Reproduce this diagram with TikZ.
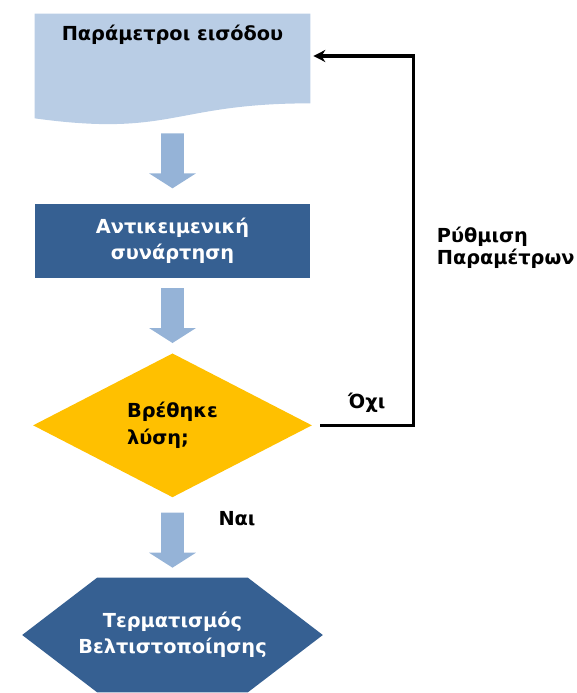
\documentclass[tikz,border=0pt]{standalone}
\usepackage{fontspec}
\setmainfont{DejaVu Sans}
\usetikzlibrary{arrows.meta, positioning, shapes.geometric, calc, backgrounds}
\definecolor{docblue}{HTML}{B9CDE5}
\definecolor{arrowblue}{HTML}{95B3D7}
\definecolor{stepblue}{HTML}{366092}
\definecolor{decisiongold}{HTML}{FFC000}

% block arrow pointing down, from #1 (top of shaft) to #2 (tip)
\newcommand{\blockarrow}[2]{%
  \fill[arrowblue] let \p1=(#1), \p2=(#2) in
    (\x1-0.23cm,\y1) -- (\x1+0.23cm,\y1) -- (\x1+0.23cm,\y2+0.3cm)
    -- (\x1+0.47cm,\y2+0.3cm) -- (\x1,\y2) -- (\x1-0.47cm,\y2+0.3cm)
    -- (\x1-0.23cm,\y2+0.3cm) -- cycle;}

\begin{document}
\begin{tikzpicture}[
    x=0.02cm, y=-0.02cm,
    >=Stealth,
    font=\bfseries\fontsize{11}{15}\selectfont,
    docbox/.style={minimum width=5.5cm, minimum height=1.78cm, inner sep=0pt},
    stepbox/.style={
        fill=stepblue, text=white, minimum width=5.5cm, minimum height=1.48cm,
        align=center,
    },
    decision/.style={
        diamond, fill=decisiongold, minimum width=5.58cm, minimum height=2.88cm,
        align=left, inner sep=0pt,
    },
    endbox/.style={
        text=white, minimum width=6cm, minimum height=2.28cm,
        align=center, inner sep=0pt,
    },
    lbl/.style={text=black, align=left},
    backarr/.style={-{Stealth[length=0.24cm, width=0.24cm]}, line width=1.9pt},
]
\useasboundingbox (0,0) rectangle (576,693);

% Input parameters (document shape)
\node[docbox] (doc) at (172.5,58.5) {};
\fill[docblue] (doc.north west) -- (doc.north east) -- (doc.south east)
    .. controls (doc.south) and ($(doc.south)+(0,34)$) .. ($(doc.south west)+(0,15)$)
    -- cycle;
\node[lbl, anchor=north] (doctext) at ([yshift=-0.1cm]doc.north) {Παράμετροι εισόδου};

% Objective function
\node[stepbox, below=2cm of doc] (objective) {Αντικειμενική\\συνάρτηση};

% Decision
\node[decision, below=1.5cm of objective] (found) {Βρέθηκε\\λύση;};

% Termination (hexagon)
\node[endbox, below=1.6cm of found] (term) {Τερματισμός\\Βελτιστοποίησης};
\begin{scope}[on background layer]
\fill[stepblue] ([xshift=1.5cm]term.north west) -- ([xshift=-1.5cm]term.north east)
    -- (term.east) -- ([xshift=-1.5cm]term.south east)
    -- ([xshift=1.5cm]term.south west) -- (term.west) -- cycle;
\end{scope}

% Block arrows between the steps
\blockarrow{[yshift=-0.6cm]doc.south}{[yshift=0.3cm]objective.north}
\blockarrow{[yshift=-0.2cm]objective.south}{[yshift=0.2cm]found.north}
\blockarrow{[yshift=-0.3cm]found.south}{[yshift=0.2cm]term.north}
\node[lbl] (yes) at (237,519) {Ναι};

% Feedback loop
\draw[backarr] ([xshift=0.16cm]found.east) -- ++(93,0)
    node[lbl, midway, above=3pt] {Όχι}
    |- node[lbl, pos=0.24, anchor=west, xshift=0.32cm,
            font=\bfseries\fontsize{11}{12.5}\selectfont] {Ρύθμιση\\Παραμέτρων}
    ([xshift=0.06cm, yshift=0.05cm]doc.east);

\end{tikzpicture}
\end{document}
